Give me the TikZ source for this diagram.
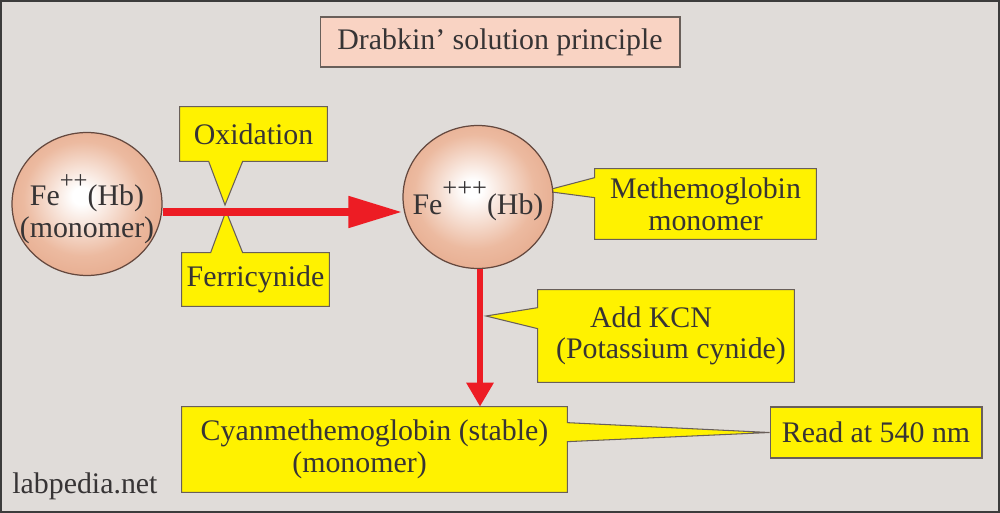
\documentclass[tikz,border=0pt]{standalone}
\usepackage{fontspec}
\setmainfont{Liberation Serif}
\usepackage{tikz}
\usetikzlibrary{arrows.meta}
\usetikzlibrary{calc}
\usetikzlibrary{shapes.geometric}
\usetikzlibrary{backgrounds}

\definecolor{framebg}{RGB}{224,220,217}
\definecolor{frameline}{RGB}{60,60,60}
\definecolor{titlepink}{RGB}{249,211,195}
\definecolor{callyellow}{RGB}{255,242,0}
\definecolor{boxedge}{RGB}{105,95,90}
\definecolor{arrowred}{RGB}{237,28,36}
\definecolor{inkgrey}{RGB}{55,52,53}
\definecolor{ballmid}{RGB}{236,186,160}
\definecolor{ballout}{RGB}{222,150,116}
\definecolor{ballrim}{RGB}{200,116,80}
\definecolor{balledge}{RGB}{100,72,62}

\pgfdeclareradialshading{hbshade}{\pgfpoint{-2bp}{3bp}}{%
  color(0bp)=(white); color(3bp)=(white); color(20bp)=(ballmid);
  color(42bp)=(ballout); color(50bp)=(ballrim)}

\newcommand{\plusup}[2]{\raisebox{0.35cm}{\fontsize{#1}{#1}\selectfont #2}}

\begin{document}
\begin{tikzpicture}[x=0.02cm,y=-0.02cm,
    every node/.style={font=\fontsize{17}{18}\selectfont, text=inkgrey},
    calltext/.style={inner sep=0pt, align=center},
    callbox/.style={fill=callyellow, draw=boxedge, line width=0.6pt},
    hbball/.style={ellipse, shading=hbshade, draw=balledge, line width=0.7pt,
        minimum width=3cm, minimum height=2.86cm, inner sep=0pt},
    flowarrow/.style={draw=arrowred, line width=0.16cm, -{Triangle[length=1.08cm,width=0.6cm]}},
    droparrow/.style={draw=arrowred, line width=0.13cm, -{Triangle[length=0.48cm,width=0.52cm]}}]

    \useasboundingbox (0,0) rectangle (1000,513);

    % Nodes
    \node [fill=titlepink, draw=boxedge, line width=0.6pt, minimum width=7.2cm, minimum height=1cm] (title) at (500,42) {Drabkin’ solution principle};
    \node [hbball] (fe2) at (87,204) {};
    \node [hbball] (fe3) at (478,197) {};
    \node [align=center, inner sep=0pt] (fe2txt) at ([yshift=-0.1cm]fe2.center) {Fe\plusup{14}{++}(Hb)\\(monomer)};
    \node [inner sep=0pt] (fe3txt) at ([yshift=-0.08cm]fe3.center) {Fe\plusup{15}{+++}(Hb)};

    % Callout texts
    \node [calltext, minimum width=2.94cm, minimum height=1.08cm] (oxi) at (253.5,134) {Oxidation};
    \node [calltext, minimum width=2.94cm, minimum height=1.06cm] (fer) at (255.5,279.5) {Ferricynide};
    \node [calltext, minimum width=4.42cm, minimum height=1.4cm] (meth) at (705.5,204) {Methemoglobin\\monomer};
    \node [calltext, minimum width=5.12cm, minimum height=1.84cm] (kcn) at (666,336) {Add KCN\hspace*{0.6cm}\\\hspace*{0.2cm}(Potassium cynide)};
    \node [calltext, minimum width=7.7cm, minimum height=1.7cm] (cyan) at (374.5,449.5) {Cyanmethemoglobin (stable)\\(monomer)\hspace*{0.6cm}};
    \node [calltext, callbox, minimum width=4.24cm, minimum height=1.02cm] (read) at (876,432.5) {Read at 540 nm};
    \node [anchor=base west, inner sep=0pt] (site) at (12,493) {labpedia.net};

    % Connections
    \coordinate (drop) at ($(fe3.south)+(2,0)$);
    \draw [flowarrow] ($(fe2.east)+(0,8)$) -- ($(fe3.west)+(0,15)$);
    \draw [droparrow] (drop) -- (drop |- cyan.north);

    % Callout shapes
    \coordinate (oxtip) at (225,205);
    \coordinate (fertip) at (226,211);
    \coordinate (methtip) at (544,191);
    \coordinate (kcntip) at (486,316);
    \begin{scope}[on background layer]
        \filldraw [fill=framebg, draw=frameline, line width=0.04cm] (1,1) rectangle (999,512);
        \filldraw [callbox] (oxi.south west) |- (oxi.north east) |- ([xshift=1.26cm]oxi.south west) -- (oxtip) -- ([xshift=0.58cm]oxi.south west) -- cycle;
        \filldraw [callbox] (fer.north west) -- ([xshift=0.58cm]fer.north west) -- (fertip) -- ([xshift=1.22cm]fer.north west) -| (fer.south east) -- (fer.south west) -- cycle;
        \filldraw [callbox] (meth.north west) -| (meth.south east) -| ([yshift=-0.58cm]meth.north west) -- (methtip) -- ([yshift=-0.18cm]meth.north west) -- cycle;
        \filldraw [callbox] (kcn.north west) -| (kcn.south east) -| ([yshift=-0.78cm]kcn.north west) -- (kcntip) -- ([yshift=-0.36cm]kcn.north west) -- cycle;
        \filldraw [callbox] (cyan.north west) -- (cyan.north east) -- ([yshift=-0.32cm]cyan.north east) -- (read.west) -- ([yshift=-0.70cm]cyan.north east) |- (cyan.south west) -- cycle;
    \end{scope}

\end{tikzpicture}
\end{document}
